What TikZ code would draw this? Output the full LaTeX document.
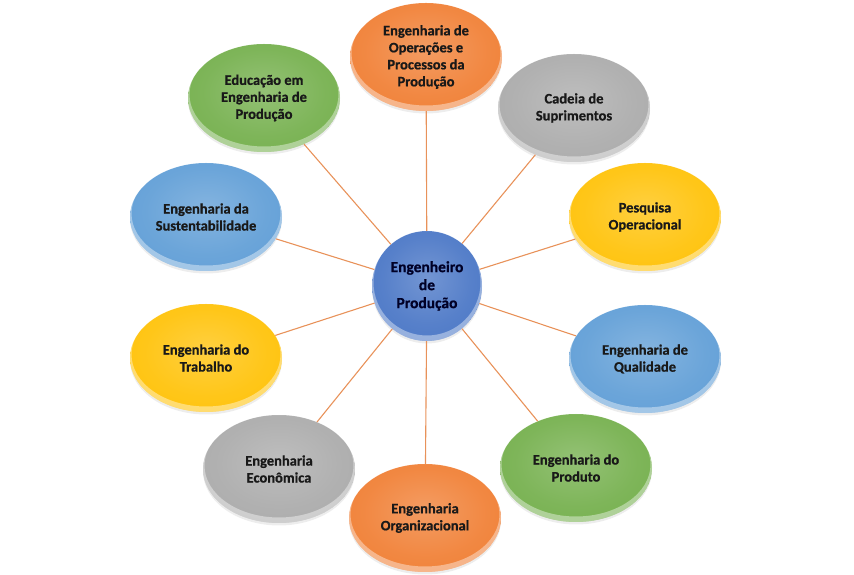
\documentclass[tikz,border=0pt]{standalone}
\usepackage{fontspec}
\setmainfont{Carlito}[BoldFeatures={FakeBold=0.7}]
\usetikzlibrary{shapes.geometric,shadows}

\definecolor{cOrange}{HTML}{F07B2E}
\definecolor{cGray}{HTML}{A8A8A8}
\definecolor{cYellow}{HTML}{FFC000}
\definecolor{cBlue}{HTML}{5B9BD5}
\definecolor{cGreen}{HTML}{70AD47}
\definecolor{cCenter}{HTML}{4472C4}
\definecolor{cLine}{HTML}{E8925A}

\newcommand\mkglass[1]{\pgfdeclareradialshading{glass#1}{\pgfpoint{0bp}{4bp}}{%
  color(0bp)=(#1!75!white); color(20bp)=(#1!90!white); color(42bp)=(#1); color(47bp)=(#1!92!black); color(50bp)=(#1!80!black)}}
\mkglass{cOrange}
\mkglass{cGray}
\mkglass{cYellow}
\mkglass{cBlue}
\mkglass{cGreen}
\mkglass{cCenter}

\tikzset{
  glow/.style 2 args={path picture={
    \fill[white,opacity=.4,even odd rule]
      (path picture bounding box.center) ellipse [x radius=#1, y radius=#2]
      ([yshift=3.5pt]path picture bounding box.center) ellipse [x radius=#1-1.5pt, y radius=#2-2pt];}},
  softshadow/.style={drop shadow={opacity=0.14, shadow xshift=0pt, shadow yshift=-2.5pt}},
  bubble/.style={ellipse, minimum width=152pt, minimum height=108pt, inner sep=0pt,
    align=center, font=\fontsize{14.5}{17}\selectfont\bfseries, text=black!90,
    softshadow, glow={76pt}{54pt}, shading=glass#1},
  hub/.style={circle, minimum size=110pt, inner sep=0pt, align=center,
    font=\fontsize{15.5}{18}\selectfont\bfseries, text=black!85!blue,
    softshadow, glow={55pt}{55pt}, shading=glasscCenter},
  conn/.style={draw=cLine, line width=1.1pt},
}

\begin{document}
\begin{tikzpicture}[x=1pt,y=1pt]
\useasboundingbox (0,0) rectangle (854,575);

\node[hub] (c) at (427,289) {Engenheiro\\de\\Produção};

\node[bubble=cOrange] (n1) at (426,518) {Engenharia de\\Operações e\\Processos da\\Produção};
\node[bubble=cGray]   (n2) at (574,467) {Cadeia de\\Suprimentos};
\node[bubble=cYellow] (n3) at (645,358) {Pesquisa\\Operacional};
\node[bubble=cBlue]   (n4) at (645,216) {Engenharia de\\Qualidade};
\node[bubble=cGreen]  (n5) at (576,107) {Engenharia do\\Produto};
\node[bubble=cOrange] (n6) at (425,57)  {Engenharia\\Organizacional};
\node[bubble=cGray]   (n7) at (279,106) {Engenharia\\Econômica};
\node[bubble=cYellow] (n8) at (206,217) {Engenharia do\\Trabalho};
\node[bubble=cBlue]   (n9) at (206,358) {Engenharia da\\Sustentabilidade};
\node[bubble=cGreen]  (n10) at (264,477) {Educação em\\Engenharia de\\Produção};

\foreach \n in {n1,n2,n3,n4,n5,n6,n7,n8,n9,n10}
  \draw[conn] (c) -- (\n);
\end{tikzpicture}
\end{document}
